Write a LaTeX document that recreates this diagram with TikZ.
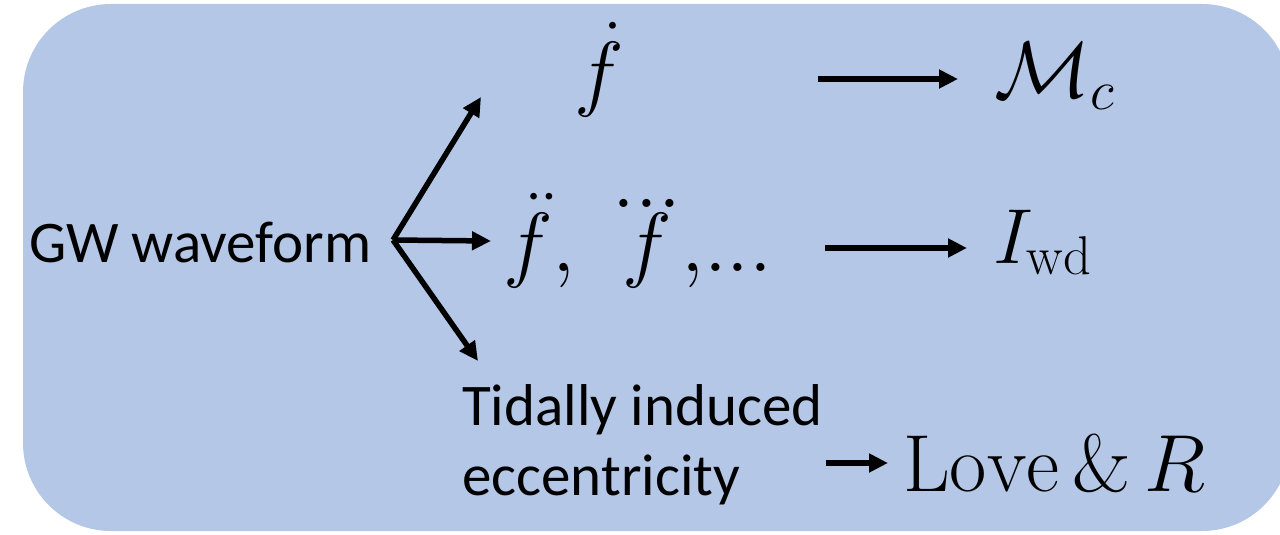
\RequirePackage{fix-cm}
\documentclass[tikz,border=0pt]{standalone}
\usepackage{amsmath}
\usepackage{fontspec}
\newfontfamily\calib{Carlito}
\usetikzlibrary{arrows.meta}
\definecolor{boxblue}{HTML}{B4C7E7}
\tikzset{
  txt/.style={font=\calib\fontsize{59}{70}\selectfont, inner sep=0pt, anchor=base west, align=left},
  mth/.style={inner sep=0pt, anchor=base west, font=\fontsize{#1}{#1}\selectfont},
  arr/.style={line width=5.5pt, -{Triangle[length=19pt,width=18pt]}},
}
\begin{document}
\begin{tikzpicture}[x=1pt,y=-1pt]
\useasboundingbox (0,0) rectangle (1280,535);
\fill[boxblue, rounded corners=88pt] (23,4) rectangle (1290,531);
\node[txt] (gw) at (29,262) {GW waveform};
\node[mth=84] (fd) at (574,100) {$\dot{f}$};
\node[mth=84] (fdd) at (503,271) {$\ddot{f},\;\overset{\textstyle...}{f},\!...$};
\node[txt] (tid) at (462,495) {Tidally induced\\eccentricity};
\node[mth=80] (mc) at (994,97) {$\mathcal{M}_c$};
\node[mth=78] (iwd) at (993,263) {$I_{\mathrm{wd}}$};
\node[mth=81] (love) at (903,491) {$\mathrm{Love}\,\&\,R$};
\coordinate (src) at (393,240);
\coordinate (t1) at (481,97);
\coordinate (t2) at (491,241);
\coordinate (t3) at (478,361);
\coordinate (a1s) at (818,79);
\coordinate (a1e) at (958,79);
\coordinate (a2s) at (825,248);
\coordinate (a2e) at (967,248);
\coordinate (a3s) at (826,463);
\coordinate (a3e) at (888,463);
\draw[arr] (src) -- (t1);
\draw[arr] (src) -- (t2);
\draw[arr] (src) -- (t3);
\draw[arr] (a1s) -- (a1e);
\draw[arr] (a2s) -- (a2e);
\draw[arr] (a3s) -- (a3e);
\end{tikzpicture}
\end{document}
